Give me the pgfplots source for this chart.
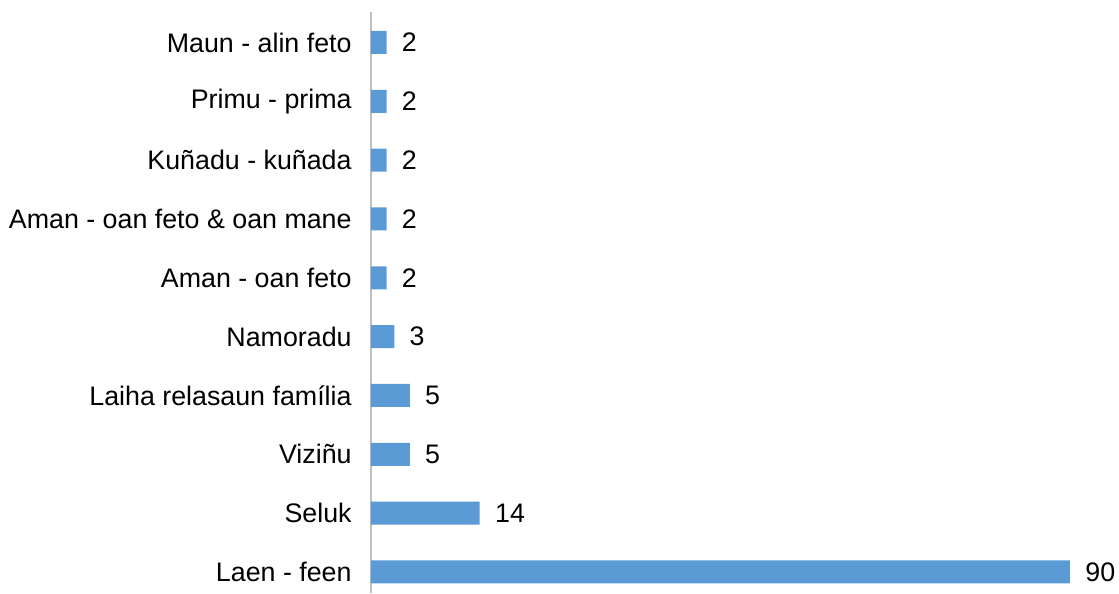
\documentclass[border=0pt]{standalone}
\usepackage{pgfplots}
\pgfplotsset{compat=1.18}
\usepackage{fontspec}
\setmainfont{Liberation Sans}
\definecolor{barblue}{HTML}{5B9BD5}
\definecolor{axgray}{HTML}{BFBFBF}
\begin{document}
\begin{tikzpicture}
\useasboundingbox (-185.5pt,-0.5pt) rectangle (374pt,296.5pt);
\begin{axis}[
  at={(0,0)}, anchor=south west,
  scale only axis,
  width=349.5pt, height=290.5pt,
  xmin=0, xmax=90,
  ymin=-0.357, ymax=9.518,
  xbar, bar width=11.5pt,
  axis x line=none,
  axis y line*=left,
  y axis line style={draw=axgray, line width=0.6pt, -},
  ytick={0,...,9},
  yticklabels={Laen - feen, Seluk, Viziñu, Laiha relasaun família, Namoradu, Aman - oan feto, Aman - oan feto \& oan mane, Kuñadu - kuñada, Primu - prima, Maun - alin feto},
  major tick length=0pt,
  yticklabel style={font=\fontsize{13.4pt}{15pt}\selectfont, inner sep=0pt, xshift=-9.5pt},
  nodes near coords,
  nodes near coords style={font=\fontsize{13.4pt}{15pt}\selectfont, inner sep=0pt, xshift=7.5pt, anchor=west, /pgf/number format/assume math mode=true},
  clip=false,
]
\addplot[fill=barblue, draw=none] coordinates {
  (90,0) (14,1) (5,2) (5,3) (3,4) (2,5) (2,6) (2,7) (2,8) (2,9)
};
\end{axis}
\end{tikzpicture}
\end{document}
